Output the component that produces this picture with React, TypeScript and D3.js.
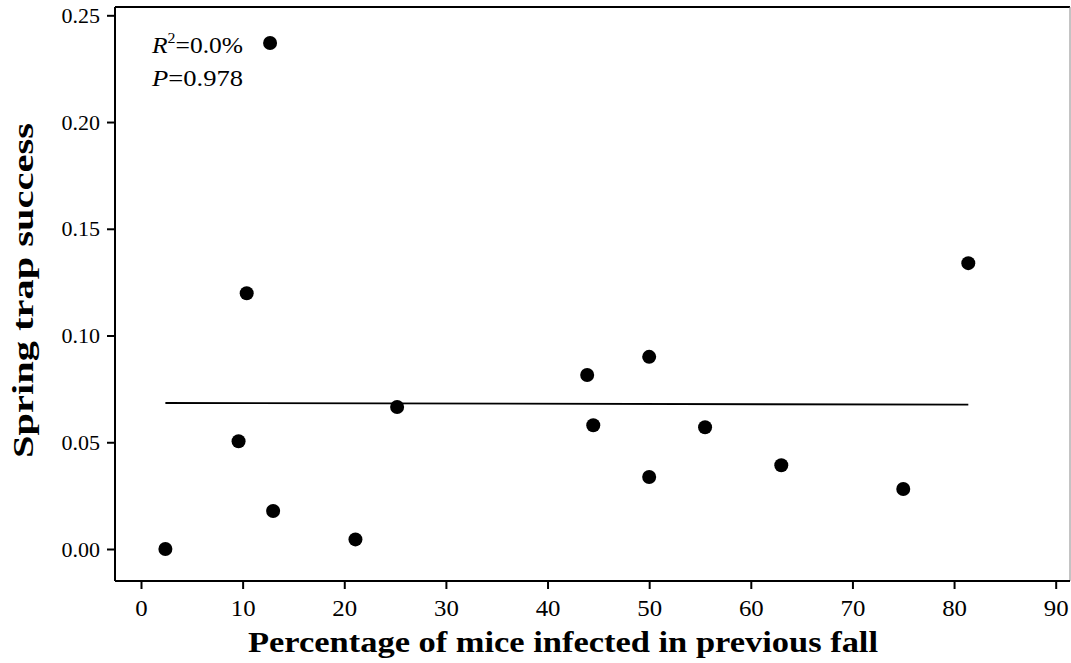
// Scatter plot of spring trap success vs. infection rate in the previous fall
import React, { useRef, useEffect } from 'react';
import * as d3 from 'd3';

// percentage of mice infected in previous fall
const infected = [2.4, 9.6, 10.4, 12.7, 13.0, 21.1, 25.2, 43.9, 44.5, 50.0, 50.0, 55.5, 63.0, 75.0, 81.4];
// spring trap success
const trapSuccess = [0.0, 0.0505, 0.1198, 0.237, 0.0178, 0.0045, 0.0665, 0.0815, 0.058, 0.090, 0.0337, 0.057, 0.0392, 0.0281, 0.1339];
// fitted line (ends of the regression)
const fitX = [2.4, 81.4];
const fitY = [0.0684, 0.0676];
// ticks
const xTicks = [0, 10, 20, 30, 40, 50, 60, 70, 80, 90];
const yTicks = [0, 0.05, 0.1, 0.15, 0.2, 0.25];

const App = () => {
  const ref = useRef<SVGSVGElement>(null);

  useEffect(() => {
    const svg = d3.select(ref.current);
    svg.selectAll('*').remove();

    const font = "'Liberation Serif', 'Times New Roman', serif";

    // scales
    const x = d3.scaleLinear().domain([0, 90]).range([141, 1055.7]);
    const y = d3.scaleLinear().domain([0, 0.25]).range([549, 15.3]);

    const left = 115, right = 1070, top = 7, bottom = 581;

    // frame (top and right edges)
    svg.append('line')
      .attr('x1', left).attr('x2', right).attr('y1', top).attr('y2', top)
      .attr('stroke', '#000').attr('stroke-width', 2);
    svg.append('line')
      .attr('x1', right).attr('x2', right).attr('y1', top).attr('y2', bottom)
      .attr('stroke', '#888').attr('stroke-width', 1);

    // x axis
    const gx = svg.append('g').attr('transform', `translate(0, ${bottom})`);
    gx.call(d3.axisBottom(x).tickValues(xTicks).tickFormat(d3.format('d')).tickSize(8).tickSizeOuter(0));
    gx.select('.domain').attr('d', `M${left},0H${right}`).attr('stroke-width', 2);
    gx.selectAll('.tick line').attr('stroke-width', 2);
    gx.selectAll('.tick text')
      .attr('font-family', font).attr('font-size', 23).attr('fill', '#000')
      .attr('dy', null).attr('y', 35)
      .attr('transform', 'scale(1.08,1)');

    // y axis
    const gy = svg.append('g').attr('transform', `translate(${left}, 0)`);
    gy.call(d3.axisLeft(y).tickValues(yTicks).tickFormat(d3.format('.2f')).tickSize(8).tickSizeOuter(0));
    gy.select('.domain').attr('d', `M0,${top}V${bottom}`).attr('stroke-width', 2);
    gy.selectAll('.tick line').attr('stroke-width', 2);
    gy.selectAll('.tick text')
      .attr('font-family', font).attr('font-size', 22).attr('fill', '#000')
      .attr('x', -15);

    // axis titles
    svg.append('text')
      .attr('x', 563).attr('y', 652)
      .attr('text-anchor', 'middle')
      .attr('font-family', font).attr('font-size', 30).attr('font-weight', 'bold')
      .attr('textLength', 630).attr('lengthAdjust', 'spacingAndGlyphs')
      .text('Percentage of mice infected in previous fall');
    svg.append('text')
      .attr('transform', 'translate(33, 290.5) rotate(-90)')
      .attr('text-anchor', 'middle')
      .attr('font-family', font).attr('font-size', 30).attr('font-weight', 'bold')
      .attr('textLength', 335).attr('lengthAdjust', 'spacingAndGlyphs')
      .text('Spring trap success');

    // regression line
    const line = d3.line<number>().x((d) => x(d)).y((d, i) => y(fitY[i]));
    svg.append('path')
      .datum(fitX)
      .attr('d', line)
      .attr('fill', 'none')
      .attr('stroke', '#000')
      .attr('stroke-width', 1.8);

    // points
    svg.append('g')
      .selectAll('circle')
      .data(infected)
      .enter()
      .append('circle')
      .attr('cx', (d) => x(d))
      .attr('cy', (d, i) => y(trapSuccess[i]))
      .attr('r', 7)
      .attr('fill', '#000');

    // R^2 and P annotation
    const note = svg.append('g').attr('font-family', font).attr('font-size', 24);
    const r2 = note.append('text').attr('x', 152).attr('y', 53)
      .attr('textLength', 91).attr('lengthAdjust', 'spacingAndGlyphs');
    r2.append('tspan').attr('font-style', 'italic').text('R');
    r2.append('tspan').attr('font-size', 15).attr('dy', -10).text('2');
    r2.append('tspan').attr('dy', 10).text('=0.0%');
    const p = note.append('text').attr('x', 152).attr('y', 86)
      .attr('textLength', 91).attr('lengthAdjust', 'spacingAndGlyphs');
    p.append('tspan').attr('font-style', 'italic').text('P');
    p.append('tspan').text('=0.978');
  }, []);

  return (
    <svg
      ref={ref}
      width={1071}
      height={663}
      style={{ position: 'absolute', left: 0, top: 0, background: '#fff' }}
    />
  );
};

export default App;
